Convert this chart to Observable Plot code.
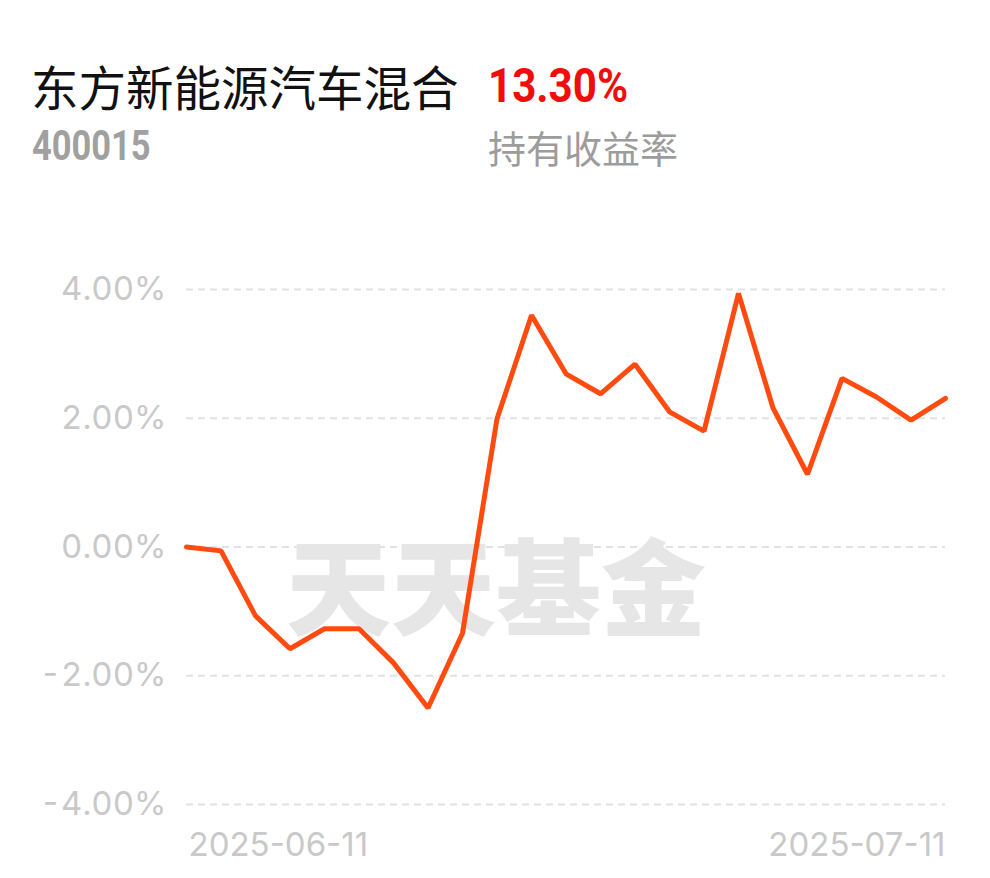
<!DOCTYPE html>
<html><head><meta charset="utf-8">
<script src="https://cdn.jsdelivr.net/npm/d3@7"></script>
<script src="https://cdn.jsdelivr.net/npm/@observablehq/plot@0.6"></script>
<style>
body{margin:0;background:#fff;width:990px;height:878px;overflow:hidden}
#header{position:relative;height:200px;width:990px}
#header div{position:absolute;white-space:nowrap;line-height:1}
#name{left:31px;top:62px;font-family:"Noto Sans CJK SC";font-size:47.5px;color:#111;}
#ret{left:488px;top:61px;font-family:Roboto;font-weight:700;font-size:49px;color:#f20d0d;transform:scaleX(0.86);transform-origin:left center}
#code{left:32px;top:125px;font-family:Roboto;font-weight:700;font-size:42px;color:#a0a0a0;transform:scaleX(0.82);transform-origin:left center}
#retlabel{left:488px;top:128px;font-family:"Noto Sans CJK SC";font-size:38px;color:#9c9c9c}
#chart svg{display:block}
</style></head><body>
<div id="header">
<div id="name"></div>
<div id="ret"></div>
<div id="code"></div>
<div id="retlabel"></div>
</div>
<div id="chart"></div>
<script>
const fundName = "东方新能源汽车混合";
const fundCode = "400015";
const holdReturn = "13.30%";
const holdReturnLabel = "持有收益率";
const watermark = "天天基金";

const dates = [
  "2025-06-11","2025-06-12","2025-06-13","2025-06-16","2025-06-17","2025-06-18",
  "2025-06-19","2025-06-20","2025-06-23","2025-06-24","2025-06-25","2025-06-26",
  "2025-06-27","2025-06-30","2025-07-01","2025-07-02","2025-07-03","2025-07-04",
  "2025-07-07","2025-07-08","2025-07-09","2025-07-10","2025-07-11"
];
const values = [
  0.00, -0.06, -1.07, -1.58, -1.27, -1.27,
  -1.80, -2.50, -1.34, 1.99, 3.60, 2.69,
  2.38, 2.84, 2.10, 1.80, 3.94, 2.16,
  1.13, 2.62, 2.33, 1.97, 2.31
];
const yTicks = [-4, -2, 0, 2, 4];
const xTickLabels = ["2025-06-11", "2025-07-11"];

document.getElementById("name").textContent = fundName;
document.getElementById("ret").textContent = holdReturn;
document.getElementById("code").textContent = fundCode;
document.getElementById("retlabel").textContent = holdReturnLabel;

const data = dates.map((d, i) => ({date: d, value: values[i]}));

const chart = Plot.plot({
  width: 990,
  height: 678,
  marginTop: 89,
  marginBottom: 74,
  marginLeft: 186,
  marginRight: 45,
  style: {fontFamily: "Inter", background: "#fff", color: "#c9c9c9"},
  x: {type: "point", domain: dates, padding: 0, inset: 0, round: false, axis: null},
  y: {domain: [-4, 4], axis: null},
  marks: [
    Plot.ruleY(yTicks, {stroke: "#e2e2e2", strokeWidth: 2, strokeDasharray: "7,5"}),
    Plot.text([watermark], {
      text: d => d, frameAnchor: "middle", dx: -70, dy: 46,
      fontSize: 105, fontWeight: 900, fill: "#e6e6e6",
      fontFamily: "Noto Sans CJK SC"
    }),
    Plot.line(data, {
      x: "date", y: "value", stroke: "#ff4b0f", strokeWidth: 5,
      strokeLinejoin: "miter", strokeLinecap: "round"
    }),
    Plot.axisY(yTicks, {
      tickSize: 0, tickPadding: 23, fontSize: 33, fill: "#c9c9c9", dx: 3,
      tickFormat: d => d.toFixed(2) + "%", label: null
    }),
    Plot.text([xTickLabels[0]], {
      x: d => d, text: d => d, frameAnchor: "bottom", dy: 41, dx: 2,
      lineAnchor: "middle", textAnchor: "start", fontSize: 33, fill: "#c9c9c9"
    }),
    Plot.text([xTickLabels[1]], {
      x: d => d, text: d => d, frameAnchor: "bottom", dy: 41,
      lineAnchor: "middle", textAnchor: "end", fontSize: 33, fill: "#c9c9c9"
    })
  ]
});
document.getElementById("chart").appendChild(chart);
</script>
</body></html>
